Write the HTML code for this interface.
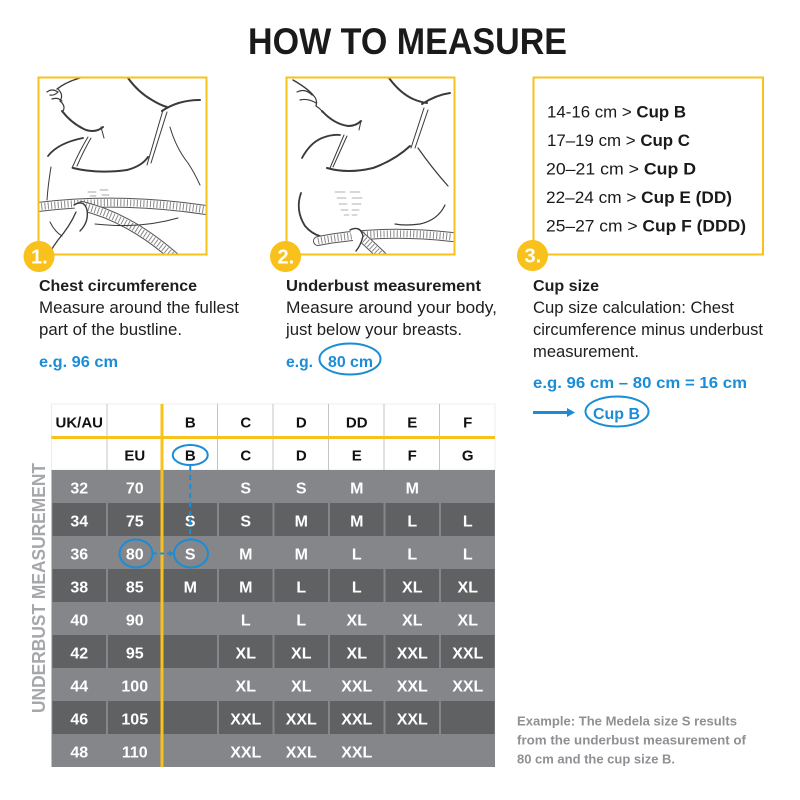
<!DOCTYPE html>
<html>
<head>
<meta charset="utf-8">
<style>
html,body{margin:0;padding:0;background:#fff;}
svg{display:block;}
</style>
</head>
<body>
<svg width="800" height="800" viewBox="0 0 800 800" xmlns="http://www.w3.org/2000/svg" font-family="'Liberation Sans', Arial, sans-serif">
<defs>
<clipPath id="c1"><rect x="39.5" y="78.5" width="166" height="175"/></clipPath>
<clipPath id="c2"><rect x="287.5" y="78.5" width="166" height="175"/></clipPath>
</defs>
<rect width="800" height="800" fill="#fff"/>

<!-- Title -->
<text x="248" y="54" font-size="37" font-weight="bold" fill="#1a1a1a" textLength="319" lengthAdjust="spacingAndGlyphs">HOW TO MEASURE</text>

<!-- Panel 1 illustration -->
<g clip-path="url(#c1)" fill="none" stroke="#3a3a3a" stroke-linecap="round">
  <path d="M80 78 Q66 82 57 89" stroke-width="1.4"/>
  <path d="M47 92 Q52 88 58 92 Q54 96 50 95 M52 99 Q58 97 62 101" stroke-width="1.2"/>
  <path d="M58 89 Q64 95 60 101 Q66 106 63 111" stroke-width="1.2"/>
  <path d="M62 111 Q72 124 86 130 Q96 133 103 127" stroke-width="2"/>
  <path d="M101 127 L104 138" stroke-width="1"/>
  <path d="M128 78 Q138 92 152 100 Q160 105 167 107" stroke-width="2"/>
  <path d="M162 111 Q178 100 200 100" stroke-width="2"/>
  <path d="M163 110 L147 165 M167 112 L151 163" stroke-width="1"/>
  <path d="M170 127 Q176 148 188 163 Q194 172 200 185" stroke-width="1"/>
  <path d="M73 168 Q97 174 127 170 Q142 166 148 157" stroke-width="2"/>
  <path d="M88 137 Q80 150 72 168 M91 138 Q83 152 77 166" stroke-width="1"/>
  <path d="M48 156 Q58 143 83 138" stroke-width="1.8"/>
  <path d="M51 167 Q48 185 47 200" stroke-width="1"/>
  <path d="M88 192 h8 M100 190 h8 M90 196 h6 M102 195 h7" stroke-width="0.8" stroke="#888"/>
  <!-- tape horizontal -->
  <path d="M38 207 Q120 197 206 210" stroke="#555" stroke-width="10"/>
  <path d="M38 207 Q120 197 206 210" stroke="#fff" stroke-width="8"/>
  <path d="M38 207 Q120 197 206 210" stroke="#888" stroke-width="7" stroke-dasharray="1 2.3" stroke-linecap="butt"/>
  <!-- tape diagonal -->
  <path d="M82 206 Q132 218 180 262" stroke="#555" stroke-width="10"/>
  <path d="M82 206 Q132 218 180 262" stroke="#fff" stroke-width="8"/>
  <path d="M82 206 Q132 218 180 262" stroke="#888" stroke-width="7" stroke-dasharray="1 2.3" stroke-linecap="butt"/>
  <!-- hand -->
  <path d="M74 205 Q84 199 87 210 Q89 222 80 231" stroke-width="1.4" fill="#fff"/>
  <path d="M76 212 Q70 226 58 240 Q52 248 48 256" stroke-width="1.3"/>
  <path d="M95 224 Q140 229 178 218" stroke-width="1"/>
  <path d="M50 222 Q55 232 62 236" stroke-width="1"/>
</g>
<rect x="38.5" y="77.5" width="168" height="177" fill="none" stroke="#f9c11c" stroke-width="2"/>

<!-- Panel 2 illustration -->
<g clip-path="url(#c2)" fill="none" stroke="#3a3a3a" stroke-linecap="round">
  <path d="M293 80 Q307 88 313 95" stroke-width="1.4"/>
  <path d="M297 92 Q305 88 312 95 M300 100 Q308 98 316 103" stroke-width="1.2"/>
  <path d="M313 95 Q318 100 316 106 Q322 110 322 112" stroke-width="1.2"/>
  <path d="M322 111 Q334 124 348 126 Q356 126 361 121" stroke-width="2"/>
  <path d="M361 121 L359 130" stroke-width="1"/>
  <path d="M389 78 Q400 93 413 99 Q420 102 427 103" stroke-width="2"/>
  <path d="M422 104 Q436 95 450 93" stroke-width="2"/>
  <path d="M424 108 L411 148 M428 110 L415 148" stroke-width="1"/>
  <path d="M418 148 Q432 168 448 186" stroke-width="1.2"/>
  <path d="M327 168 Q348 174 373 168 Q395 160 410 146" stroke-width="2"/>
  <path d="M344 135 L330 168 M347 136 L333 167" stroke-width="1"/>
  <path d="M302 158 Q310 143 322 138 Q332 134 340 135" stroke-width="1.8"/>
  <path d="M301 193 Q295 210 305 226 Q312 234 320 236" stroke-width="1.8"/>
  <path d="M445 205 Q438 220 420 224 Q405 226 395 224" stroke-width="1.2"/>
  <path d="M335 192 h10 M350 192 h10 M337 198 h9 M352 198 h10 M339 204 h8 M352 204 h9 M341 210 h7 M352 210 h7 M344 215 h5 M352 215 h5" stroke-width="0.8" stroke="#999"/>
  <path d="M318 241 Q380 229 452 237" stroke="#555" stroke-width="10"/>
  <path d="M318 241 Q380 229 452 237" stroke="#fff" stroke-width="8"/>
  <path d="M318 241 Q380 229 452 237" stroke="#888" stroke-width="7" stroke-dasharray="1 2.3" stroke-linecap="butt"/>
  <path d="M357 233 Q372 246 390 264" stroke="#555" stroke-width="10"/>
  <path d="M357 233 Q372 246 390 264" stroke="#fff" stroke-width="8"/>
  <path d="M357 233 Q372 246 390 264" stroke="#888" stroke-width="7" stroke-dasharray="1 2.3" stroke-linecap="butt"/>
  <path d="M350 230 Q360 225 363 236 Q361 245 356 251" stroke-width="1.4" fill="#fff"/>
</g>
<rect x="286.5" y="77.5" width="168" height="177" fill="none" stroke="#f9c11c" stroke-width="2"/>

<!-- Panel 3 -->
<rect x="533.5" y="77.5" width="229.5" height="177" fill="none" stroke="#f9c11c" stroke-width="2"/>
<g font-size="17" fill="#1a1a1a">
  <text x="547" y="117.5" textLength="139" lengthAdjust="spacingAndGlyphs">14-16 cm &gt; <tspan font-weight="bold">Cup B</tspan></text>
  <text x="547" y="146" textLength="143" lengthAdjust="spacingAndGlyphs">17–19 cm &gt; <tspan font-weight="bold">Cup C</tspan></text>
  <text x="546" y="174.5" textLength="150" lengthAdjust="spacingAndGlyphs">20–21 cm &gt; <tspan font-weight="bold">Cup D</tspan></text>
  <text x="546" y="203" textLength="186" lengthAdjust="spacingAndGlyphs">22–24 cm &gt; <tspan font-weight="bold">Cup E (DD)</tspan></text>
  <text x="546" y="231.5" textLength="200" lengthAdjust="spacingAndGlyphs">25–27 cm &gt; <tspan font-weight="bold">Cup F (DDD)</tspan></text>
</g>

<!-- Badges -->
<circle cx="39" cy="256.5" r="15.5" fill="#f9c11c"/>
<text x="31" y="263.5" font-size="20" font-weight="bold" fill="#fff">1.</text>
<circle cx="285.5" cy="256.5" r="15.5" fill="#f9c11c"/>
<text x="277.5" y="263.5" font-size="20" font-weight="bold" fill="#fff">2.</text>
<circle cx="532.5" cy="255.5" r="15.5" fill="#f9c11c"/>
<text x="524.5" y="262.5" font-size="20" font-weight="bold" fill="#fff">3.</text>

<!-- Panel texts -->
<g fill="#1e1e1e">
  <text x="39" y="291" font-size="16" font-weight="bold" textLength="158" lengthAdjust="spacingAndGlyphs">Chest circumference</text>
  <text x="39" y="313" font-size="16.5" textLength="200" lengthAdjust="spacingAndGlyphs">Measure around the fullest</text>
  <text x="39" y="335" font-size="16.5" textLength="143" lengthAdjust="spacingAndGlyphs">part of the bustline.</text>

  <text x="286" y="291" font-size="16" font-weight="bold" textLength="195" lengthAdjust="spacingAndGlyphs">Underbust measurement</text>
  <text x="286" y="313" font-size="16.5" textLength="211" lengthAdjust="spacingAndGlyphs">Measure around your body,</text>
  <text x="286" y="335" font-size="16.5" textLength="176" lengthAdjust="spacingAndGlyphs">just below your breasts.</text>

  <text x="533" y="291" font-size="16" font-weight="bold" textLength="66" lengthAdjust="spacingAndGlyphs">Cup size</text>
  <text x="533" y="313" font-size="16.5" textLength="201" lengthAdjust="spacingAndGlyphs">Cup size calculation: Chest</text>
  <text x="533" y="335" font-size="16.5" textLength="230" lengthAdjust="spacingAndGlyphs">circumference minus underbust</text>
  <text x="533" y="357" font-size="16.5" textLength="106" lengthAdjust="spacingAndGlyphs">measurement.</text>
</g>
<g fill="#1a8dd6" font-weight="bold" font-size="16">
  <text x="39" y="367" textLength="79" lengthAdjust="spacingAndGlyphs">e.g. 96 cm</text>
  <text x="286" y="367" textLength="27" lengthAdjust="spacingAndGlyphs">e.g.</text>
  <text x="328" y="367" textLength="45" lengthAdjust="spacingAndGlyphs">80 cm</text>
  <text x="533" y="388" textLength="214" lengthAdjust="spacingAndGlyphs">e.g. 96 cm – 80 cm = 16 cm</text>
  <text x="593" y="419" textLength="47" lengthAdjust="spacingAndGlyphs">Cup B</text>
</g>
<ellipse cx="350" cy="359" rx="30.5" ry="15.5" fill="none" stroke="#1a8dd6" stroke-width="2"/>
<ellipse cx="617" cy="411.5" rx="31.5" ry="15" fill="none" stroke="#1a8dd6" stroke-width="2"/>
<line x1="533" y1="412.5" x2="568" y2="412.5" stroke="#1a8dd6" stroke-width="3"/>
<polygon points="567,408 575,412.5 567,417" fill="#1a8dd6"/>

<!-- Table header -->
<rect x="51.5" y="404" width="443.5" height="66" fill="#fff" stroke="#ececec" stroke-width="1"/>
<g stroke="#c4c4c4" stroke-width="1">
  <line x1="107" y1="404" x2="107" y2="470"/>
  <line x1="217.5" y1="404" x2="217.5" y2="470"/>
  <line x1="273" y1="404" x2="273" y2="470"/>
  <line x1="328.5" y1="404" x2="328.5" y2="470"/>
  <line x1="384" y1="404" x2="384" y2="470"/>
  <line x1="439.5" y1="404" x2="439.5" y2="470"/>
</g>
<g font-size="15" font-weight="bold" fill="#111" text-anchor="middle">
  <text x="79.25" y="427.5">UK/AU</text>
  <text x="190.25" y="427.5">B</text>
  <text x="245.75" y="427.5">C</text>
  <text x="301.25" y="427.5">D</text>
  <text x="356.75" y="427.5">DD</text>
  <text x="412.25" y="427.5">E</text>
  <text x="467.75" y="427.5">F</text>
  <text x="134.75" y="460.5">EU</text>
  <text x="190.25" y="460.5">B</text>
  <text x="245.75" y="460.5">C</text>
  <text x="301.25" y="460.5">D</text>
  <text x="356.75" y="460.5">E</text>
  <text x="412.25" y="460.5">F</text>
  <text x="467.75" y="460.5">G</text>
</g>

<!-- Table body rows -->
<g>
  <rect x="51.5" y="470" width="443.5" height="297" fill="#848689"/>
  <!-- dark rows: 34 (503), 38 (569), 42 (635), 46 (701) -->
  <g fill="#606163">
    <rect x="52.5" y="503" width="53.5" height="33"/><rect x="108" y="503" width="53.5" height="33"/><rect x="163.5" y="503" width="53.5" height="33"/><rect x="219" y="503" width="53.5" height="33"/><rect x="274.5" y="503" width="53.5" height="33"/><rect x="330" y="503" width="53.5" height="33"/><rect x="385.5" y="503" width="53.5" height="33"/><rect x="441" y="503" width="53.5" height="33"/>
    <rect x="52.5" y="569" width="53.5" height="33"/><rect x="108" y="569" width="53.5" height="33"/><rect x="163.5" y="569" width="53.5" height="33"/><rect x="219" y="569" width="53.5" height="33"/><rect x="274.5" y="569" width="53.5" height="33"/><rect x="330" y="569" width="53.5" height="33"/><rect x="385.5" y="569" width="53.5" height="33"/><rect x="441" y="569" width="53.5" height="33"/>
    <rect x="52.5" y="635" width="53.5" height="33"/><rect x="108" y="635" width="53.5" height="33"/><rect x="163.5" y="635" width="53.5" height="33"/><rect x="219" y="635" width="53.5" height="33"/><rect x="274.5" y="635" width="53.5" height="33"/><rect x="330" y="635" width="53.5" height="33"/><rect x="385.5" y="635" width="53.5" height="33"/><rect x="441" y="635" width="53.5" height="33"/>
    <rect x="52.5" y="701" width="53.5" height="33"/><rect x="108" y="701" width="53.5" height="33"/><rect x="163.5" y="701" width="53.5" height="33"/><rect x="219" y="701" width="53.5" height="33"/><rect x="274.5" y="701" width="53.5" height="33"/><rect x="330" y="701" width="53.5" height="33"/><rect x="385.5" y="701" width="53.5" height="33"/><rect x="441" y="701" width="53.5" height="33"/>
  </g>
</g>

<!-- Yellow lines -->
<rect x="51.5" y="436" width="443.5" height="3" fill="#f9c11c"/>
<rect x="160.5" y="404" width="3" height="363" fill="#f9c11c"/>

<!-- Table body text -->
<g font-size="16" font-weight="bold" fill="#fff" text-anchor="middle">
  <text x="79.25" y="493.5">32</text><text x="134.75" y="493.5">70</text><text x="245.75" y="493.5">S</text><text x="301.25" y="493.5">S</text><text x="356.75" y="493.5">M</text><text x="412.25" y="493.5">M</text>
  <text x="79.25" y="526.5">34</text><text x="134.75" y="526.5">75</text><text x="190.25" y="526.5">S</text><text x="245.75" y="526.5">S</text><text x="301.25" y="526.5">M</text><text x="356.75" y="526.5">M</text><text x="412.25" y="526.5">L</text><text x="467.75" y="526.5">L</text>
  <text x="79.25" y="559.5">36</text><text x="134.75" y="559.5">80</text><text x="190.25" y="559.5">S</text><text x="245.75" y="559.5">M</text><text x="301.25" y="559.5">M</text><text x="356.75" y="559.5">L</text><text x="412.25" y="559.5">L</text><text x="467.75" y="559.5">L</text>
  <text x="79.25" y="592.5">38</text><text x="134.75" y="592.5">85</text><text x="190.25" y="592.5">M</text><text x="245.75" y="592.5">M</text><text x="301.25" y="592.5">L</text><text x="356.75" y="592.5">L</text><text x="412.25" y="592.5">XL</text><text x="467.75" y="592.5">XL</text>
  <text x="79.25" y="625.5">40</text><text x="134.75" y="625.5">90</text><text x="245.75" y="625.5">L</text><text x="301.25" y="625.5">L</text><text x="356.75" y="625.5">XL</text><text x="412.25" y="625.5">XL</text><text x="467.75" y="625.5">XL</text>
  <text x="79.25" y="658.5">42</text><text x="134.75" y="658.5">95</text><text x="245.75" y="658.5">XL</text><text x="301.25" y="658.5">XL</text><text x="356.75" y="658.5">XL</text><text x="412.25" y="658.5">XXL</text><text x="467.75" y="658.5">XXL</text>
  <text x="79.25" y="691.5">44</text><text x="134.75" y="691.5">100</text><text x="245.75" y="691.5">XL</text><text x="301.25" y="691.5">XL</text><text x="356.75" y="691.5">XXL</text><text x="412.25" y="691.5">XXL</text><text x="467.75" y="691.5">XXL</text>
  <text x="79.25" y="724.5">46</text><text x="134.75" y="724.5">105</text><text x="245.75" y="724.5">XXL</text><text x="301.25" y="724.5">XXL</text><text x="356.75" y="724.5">XXL</text><text x="412.25" y="724.5">XXL</text>
  <text x="79.25" y="757.5">48</text><text x="134.75" y="757.5">110</text><text x="245.75" y="757.5">XXL</text><text x="301.25" y="757.5">XXL</text><text x="356.75" y="757.5">XXL</text>
</g>

<!-- Blue table annotations -->
<g fill="none" stroke="#1a8dd6" stroke-width="2">
  <ellipse cx="190.25" cy="455" rx="17.5" ry="10"/>
  <ellipse cx="136" cy="553.5" rx="16.5" ry="14"/>
  <ellipse cx="191" cy="553.5" rx="17" ry="14"/>
  <line x1="190.25" y1="466" x2="190.25" y2="539" stroke-dasharray="5 4"/>
  <line x1="153" y1="553.5" x2="170" y2="553.5" stroke-dasharray="4 3"/>
</g>
<polygon points="169,550.5 174,553.5 169,556.5" fill="#1a8dd6"/>

<!-- Vertical label -->
<text transform="translate(45,713) rotate(-90)" font-size="18" font-weight="bold" fill="#a5a7aa" textLength="250" lengthAdjust="spacingAndGlyphs">UNDERBUST MEASUREMENT</text>

<!-- Example note -->
<g font-size="13" font-weight="bold" fill="#8e9093">
  <text x="517" y="725.5" textLength="220" lengthAdjust="spacingAndGlyphs">Example: The Medela size S results</text>
  <text x="517" y="744.5" textLength="229" lengthAdjust="spacingAndGlyphs">from the underbust measurement of</text>
  <text x="517" y="763.5" textLength="158" lengthAdjust="spacingAndGlyphs">80 cm and the cup size B.</text>
</g>
</svg>
</body>
</html>
